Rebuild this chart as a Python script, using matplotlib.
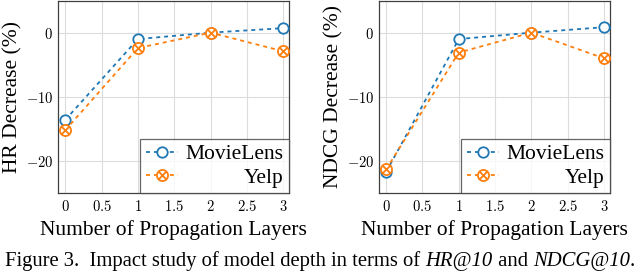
import numpy as np
import matplotlib
matplotlib.use("Agg")
import matplotlib.pyplot as plt
from matplotlib.path import Path

plt.rcParams['font.family'] = ['Liberation Serif', 'DejaVu Serif']
plt.rcParams['mathtext.fontset'] = 'cm'

layers = [0, 1, 2, 3]
hr_movielens = [-13.6, -1.0, 0.0, 0.7]
hr_yelp = [-15.2, -2.4, 0.0, -2.9]
ndcg_movielens = [-21.7, -1.0, 0.0, 0.85]
ndcg_yelp = [-21.3, -3.1, 0.0, -4.0]
xticks = [0, 0.5, 1, 1.5, 2, 2.5, 3]
xtick_labels = ['$0$', '$0.5$', '$1$', '$1.5$', '$2$', '$2.5$', '$3$']
yticks = [-20, -10, 0]
ytick_labels = ['$-20$', '$-10$', '$0$']

BLUE = '#1f77b4'
ORANGE = '#ff7f0e'

# circle with a cross inside (otimes)
d = 0.7071
otimes = Path.make_compound_path(
    Path.unit_circle(),
    Path([(-d, -d), (d, d)], [Path.MOVETO, Path.LINETO]),
    Path([(-d, d), (d, -d)], [Path.MOVETO, Path.LINETO]),
)

legends = []


def panel(ax, ml, yelp, ylabel):
    ax.plot(layers, ml, linestyle=(0, (2.2, 2.2)), lw=1.3, color=BLUE,
            marker='o', ms=7.5, mfc='white', mew=1.3, label='MovieLens', zorder=3)
    ax.plot(layers, yelp, linestyle=(0, (2.2, 2.2)), lw=1.3, color=ORANGE,
            marker=otimes, ms=8, mfc='white', mew=1.3, label='Yelp', zorder=4)
    ax.set_xlim(-0.1, 3.08)
    ax.set_ylim(-25, 5)
    ax.set_xticks(xticks)
    ax.set_xticklabels(xtick_labels)
    ax.set_yticks(yticks)
    ax.set_yticklabels(ytick_labels)
    ax.grid(color='#dcdcdc', lw=0.8)
    ax.set_axisbelow(True)
    ax.tick_params(length=0, labelsize=10.5)
    ax.tick_params(axis='x', pad=4.5)
    ax.tick_params(axis='y', pad=3.5)
    for s in ax.spines.values():
        s.set_color('#404040')
        s.set_linewidth(0.9)
    ax.set_xlabel('Number of Propagation Layers', fontsize=15.5, labelpad=4)
    ax.set_ylabel(ylabel, fontsize=15.5, labelpad=2)
    leg = ax.legend(loc='lower right', borderaxespad=0, fontsize=15.5,
                    handlelength=1.5, handletextpad=0.35, borderpad=0.25,
                    labelspacing=0.15, fancybox=False, edgecolor='#404040')
    leg.get_frame().set_linewidth(0.9)
    legends.append(leg)


fig = plt.figure(figsize=(6.4, 2.72), dpi=100)
ax1 = fig.add_axes([0.0906, 0.290, 0.361, 0.708])
ax2 = fig.add_axes([0.592, 0.290, 0.361, 0.708])
panel(ax1, hr_movielens, hr_yelp, 'HR Decrease (%)')
panel(ax2, ndcg_movielens, ndcg_yelp, 'NDCG Decrease (%)')

fig.canvas.draw()
r = fig.canvas.get_renderer()

# right-align legend labels (pgfplots style)
for leg in legends:
    txts = leg.get_texts()
    ws = [t.get_window_extent(r).width for t in txts]
    for t, w in zip(txts, ws):
        t.set_x(max(ws) - w)

# caption with italic parts, placed piece by piece
pieces = [('Figure 3.  Impact study of model depth in terms of ', 'normal'),
          ('HR@10', 'italic'), (' and ', 'normal'), ('NDCG@10', 'italic'),
          ('.', 'normal')]
texts = []
for s, st in pieces:
    texts.append(fig.text(0, 0.022, s, fontsize=14.9, style=st, va='baseline'))
widths = [t.get_window_extent(r).width for t in texts]
total = sum(widths)
x = (640 - total) / 2
for t, w in zip(texts, widths):
    t.set_x(x / 640)
    x += w

fig.savefig('out.png', dpi=100)
